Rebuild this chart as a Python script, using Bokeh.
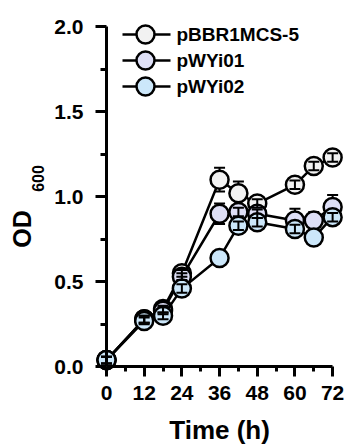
import math
from bokeh.plotting import figure
from bokeh.models import FixedTicker, PrintfTickFormatter, ColumnDataSource, Whisker, TeeHead, Range1d
from bokeh.core.properties import value
from bokeh.embed import file_html
from bokeh.resources import INLINE

# ---- data ----
time_h = [0, 12, 18, 24, 36, 42, 48, 60, 66, 72]
series_names = ["pBBR1MCS-5", "pWYi01", "pWYi02"]
od_pbbr = [0.04, 0.28, 0.34, 0.55, 1.10, 1.02, 0.96, 1.07, 1.18, 1.23]
od_wyi01 = [0.04, 0.28, 0.33, 0.53, 0.90, 0.91, 0.90, 0.86, 0.86, 0.94]
od_wyi02 = [0.04, 0.27, 0.30, 0.46, 0.64, 0.83, 0.85, 0.81, 0.76, 0.88]
err_pbbr = [0.02, 0.02, 0.02, 0.02, 0.07, 0.07, 0.025, 0.025, 0.025, 0.025]
err_wyi01 = [0.02, 0.02, 0.02, 0.02, 0.06, 0.025, 0.025, 0.07, 0.05, 0.07]
err_wyi02 = [0.02, 0.02, 0.02, 0.025, 0.0, 0.025, 0.025, 0.025, 0.0, 0.025]
x_ticks = [0, 12, 24, 36, 48, 60, 72]
x_minor = [6, 18, 30, 42, 54, 66]
y_ticks = [0.0, 0.5, 1.0, 1.5, 2.0]
y_minor = [0.25, 0.75, 1.25, 1.75]
x_title = "Time (h)"
y_title = "OD"
y_title_sub = "600"

fills = ["#f2f2f2", "#dedff6", "#cce7fa"]

# ---- layout: the frame covers the whole canvas; axes sit at data 0 ----
W, H = 348, 448
SX = 3.1406          # px per hour
SY = 170.18          # px per OD unit
ORIGIN_PX = (106, 366.4)
X0 = -ORIGIN_PX[0] / SX
X1 = X0 + W / SX
Y1 = ORIGIN_PX[1] / SY
Y0 = Y1 - H / SY
MARKER = 18
INSIDE_PX = 8        # error bars shorter than this are drawn over the symbol

def tx(cx):  # canvas px -> data x
    return X0 + cx / SX

def ty(cy):  # canvas px -> data y
    return Y1 - cy / SY

p = figure(frame_width=W, frame_height=H, x_range=Range1d(X0, X1), y_range=Range1d(Y0, Y1),
           output_backend="svg", toolbar_location=None, min_border=0)
p.outline_line_color = None
p.xgrid.visible = False
p.ygrid.visible = False
p.background_fill_color = "white"
p.border_fill_color = "white"

FONT = "Liberation Sans"
for ax in (p.xaxis[0], p.yaxis[0]):
    ax.fixed_location = 0
    ax.axis_line_width = 3
    ax.axis_line_color = "black"
    ax.major_tick_line_width = 3
    ax.minor_tick_line_width = 3
    ax.major_tick_line_color = "black"
    ax.minor_tick_line_color = "black"
    ax.major_tick_in = 0
    ax.minor_tick_in = 0
    ax.major_label_text_font = FONT
    ax.major_label_text_font_style = "bold"
    ax.major_label_text_font_size = "21px"
    ax.major_label_text_color = "black"

p.xaxis.ticker = FixedTicker(ticks=x_ticks, minor_ticks=x_minor)
p.yaxis.ticker = FixedTicker(ticks=y_ticks, minor_ticks=y_minor)
p.yaxis.formatter = PrintfTickFormatter(format="%.1f")
p.xaxis.bounds = (0, 72)
p.yaxis.bounds = (0, 2.0)
p.xaxis.major_tick_out = 10
p.xaxis.minor_tick_out = 5
p.yaxis.major_tick_out = 11
p.yaxis.minor_tick_out = 6
p.xaxis.major_label_standoff = 9
p.yaxis.major_label_standoff = 12

def whisker(src, level):
    w = Whisker(base="t", lower="lo", upper="hi", source=src, dimension="height",
                line_color="black", line_width=2, level=level,
                upper_head=TeeHead(size=11, line_width=2, line_color="black"),
                lower_head=TeeHead(size=11, line_width=2, line_color="black"))
    p.add_layout(w)

all_od = [od_pbbr, od_wyi01, od_wyi02]
all_err = [err_pbbr, err_wyi01, err_wyi02]
for name, od, err, fc in zip(series_names, all_od, all_err, fills):
    src = ColumnDataSource(dict(t=time_h, od=od))
    under = dict(t=[], lo=[], hi=[])
    over = dict(t=[], lo=[], hi=[])
    for t, v, e in zip(time_h, od, err):
        if e <= 0:
            continue
        d = over if e * SY < INSIDE_PX else under
        d["t"].append(t)
        d["lo"].append(v - e)
        d["hi"].append(v + e)
    whisker(ColumnDataSource(under), "underlay")
    p.line("t", "od", source=src, line_color="black", line_width=2.5)
    p.scatter("t", "od", source=src, size=MARKER, fill_color=fc, line_color="black", line_width=2.5)
    whisker(ColumnDataSource(over), "annotation")

def txt(x, y, text, size, align="center", baseline="middle", angle=0.0):
    p.text([x], [y], text=[text], text_font=value(FONT), text_font_style="bold",
           text_font_size=size, text_align=align, text_baseline=baseline,
           text_color="black", angle=angle)

# ---- legend (manual) ----
leg_rows_px = [34, 60, 86]
for name, fc, ry in zip(series_names, fills, leg_rows_px):
    yy = ty(ry)
    p.line([tx(122), tx(170)], [yy, yy], line_color="black", line_width=2.5)
    p.scatter([tx(145)], [yy], size=MARKER, fill_color=fc, line_color="black", line_width=2.5)
    txt(tx(176), yy, name, "19px", align="left")

# ---- axis titles ----
txt(36, ty(429), x_title, "26px")
txt(tx(21.5), ty(228.5), y_title, "25px", angle=math.pi / 2)
txt(tx(37), ty(178), y_title_sub, "16px", angle=math.pi / 2)

open("out.html", "w").write(file_html(p, INLINE))
